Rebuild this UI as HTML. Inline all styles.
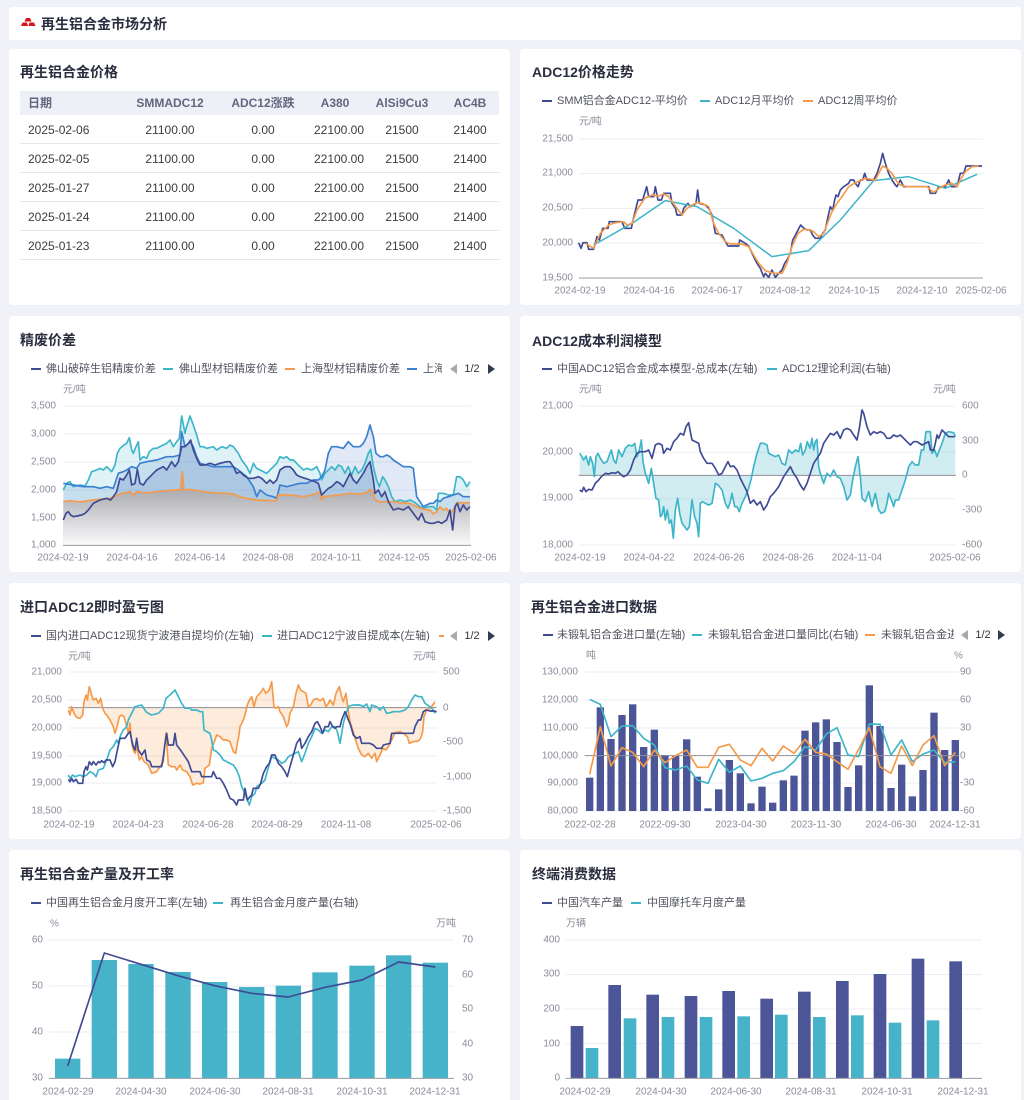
<!DOCTYPE html>
<html><head><meta charset="utf-8"><style>
html,body{margin:0;padding:0;background:#f1f2f7;width:1024px;height:1100px;overflow:hidden}
svg{display:block}
text{font-family:"Liberation Sans","Noto Sans CJK SC",sans-serif;dominant-baseline:central}
.t{font-size:14px;font-weight:bold;fill:#2b2e3f}
.lg{font-size:11px;fill:#50535f}
.ax{font-size:10px;fill:#8a8d9a}
.th{font-size:12px;font-weight:bold;fill:#62667e}
.td{font-size:12px;fill:#3c3c3c}
.m{text-anchor:middle}.e{text-anchor:end}
.grid{stroke:#eceef5;stroke-width:1}
.axl{stroke:#9a9ca5;stroke-width:1}
</style></head><body>
<svg width="1024" height="1100" viewBox="0 0 1024 1100" xmlns="http://www.w3.org/2000/svg">
<defs>
<linearGradient id="gg" gradientUnits="userSpaceOnUse" x1="0" y1="540" x2="0" y2="706"><stop offset="0" stop-color="#acadb2"/><stop offset="1" stop-color="#fafafb"/></linearGradient>
<clipPath id="c5"><rect x="512" y="620" width="442" height="30"/></clipPath>
<clipPath id="c2"><rect x="0" y="355" width="442" height="30"/></clipPath>
</defs>

<!-- header -->
<rect x="9" y="7" width="1012" height="33" rx="3" fill="#fff"/>
<polygon points="26,18 30,18 31.5,21.5 24.5,21.5" fill="#d7141c"/>
<polygon points="22.5,22.5 27,22.5 28,26 21,26" fill="#d7141c"/>
<polygon points="29.5,22.5 34,22.5 35.5,26 28.5,26" fill="#d7141c"/>
<text x="41" y="24" class="t">再生铝合金市场分析</text>

<!-- cards -->
<rect x="9" y="49" width="501" height="256" rx="4" fill="#fff"/>
<rect x="520" y="49" width="501" height="256" rx="4" fill="#fff"/>
<rect x="9" y="316" width="501" height="256" rx="4" fill="#fff"/>
<rect x="520" y="316" width="501" height="256" rx="4" fill="#fff"/>
<rect x="9" y="583" width="501" height="256" rx="4" fill="#fff"/>
<rect x="520" y="583" width="501" height="256" rx="4" fill="#fff"/>
<rect x="9" y="850" width="501" height="260" rx="4" fill="#fff"/>
<rect x="520" y="850" width="501" height="260" rx="4" fill="#fff"/>

<!-- ================= table ================= -->
<text x="20" y="72" class="t">再生铝合金价格</text>
<rect x="20" y="91" width="479" height="24" fill="#eef0f8"/>
<text x="28" y="103" class="th">日期</text>
<text x="170" y="103" class="th m">SMMADC12</text>
<text x="263" y="103" class="th m">ADC12涨跌</text>
<text x="335" y="103" class="th m">A380</text>
<text x="402" y="103" class="th m">AlSi9Cu3</text>
<text x="470" y="103" class="th m">AC4B</text>
<g stroke="#e6e7ee" stroke-width="1">
<line x1="20" x2="499" y1="143.5" y2="143.5"/><line x1="20" x2="499" y1="172.5" y2="172.5"/><line x1="20" x2="499" y1="201.5" y2="201.5"/><line x1="20" x2="499" y1="230.5" y2="230.5"/><line x1="20" x2="499" y1="259.5" y2="259.5"/>
</g>
<g>
<text x="28" y="130" class="td">2025-02-06</text><text x="170" y="130" class="td m">21100.00</text><text x="263" y="130" class="td m">0.00</text><text x="339" y="130" class="td m">22100.00</text><text x="402" y="130" class="td m">21500</text><text x="470" y="130" class="td m">21400</text>
<text x="28" y="159" class="td">2025-02-05</text><text x="170" y="159" class="td m">21100.00</text><text x="263" y="159" class="td m">0.00</text><text x="339" y="159" class="td m">22100.00</text><text x="402" y="159" class="td m">21500</text><text x="470" y="159" class="td m">21400</text>
<text x="28" y="188" class="td">2025-01-27</text><text x="170" y="188" class="td m">21100.00</text><text x="263" y="188" class="td m">0.00</text><text x="339" y="188" class="td m">22100.00</text><text x="402" y="188" class="td m">21500</text><text x="470" y="188" class="td m">21400</text>
<text x="28" y="217" class="td">2025-01-24</text><text x="170" y="217" class="td m">21100.00</text><text x="263" y="217" class="td m">0.00</text><text x="339" y="217" class="td m">22100.00</text><text x="402" y="217" class="td m">21500</text><text x="470" y="217" class="td m">21400</text>
<text x="28" y="246" class="td">2025-01-23</text><text x="170" y="246" class="td m">21100.00</text><text x="263" y="246" class="td m">0.00</text><text x="339" y="246" class="td m">22100.00</text><text x="402" y="246" class="td m">21500</text><text x="470" y="246" class="td m">21400</text>
</g>

<!-- ================= ADC12价格走势 ================= -->
<text x="532" y="72" class="t">ADC12价格走势</text>
<line x1="542" x2="552" y1="101" y2="101" stroke="#3f4a94" stroke-width="2"/><text x="557" y="101" class="lg">SMM铝合金ADC12-平均价</text>
<line x1="700" x2="710" y1="101" y2="101" stroke="#3db5c9" stroke-width="2"/><text x="715" y="101" class="lg">ADC12月平均价</text>
<line x1="803" x2="813" y1="101" y2="101" stroke="#f59a4a" stroke-width="2"/><text x="818" y="101" class="lg">ADC12周平均价</text>
<text x="579" y="122" class="ax">元/吨</text>
<g class="grid"><line x1="579" x2="983" y1="139" y2="139"/><line x1="579" x2="983" y1="173.5" y2="173.5"/><line x1="579" x2="983" y1="208.5" y2="208.5"/><line x1="579" x2="983" y1="243" y2="243"/></g>
<line x1="579" x2="983" y1="278" y2="278" class="axl"/>
<text x="573" y="139" class="ax e">21,500</text><text x="573" y="173" class="ax e">21,000</text><text x="573" y="208" class="ax e">20,500</text><text x="573" y="243" class="ax e">20,000</text><text x="573" y="278" class="ax e">19,500</text>
<text x="580" y="291" class="ax m">2024-02-19</text><text x="649" y="291" class="ax m">2024-04-16</text><text x="717" y="291" class="ax m">2024-06-17</text><text x="785" y="291" class="ax m">2024-08-12</text><text x="854" y="291" class="ax m">2024-10-15</text><text x="922" y="291" class="ax m">2024-12-10</text><text x="981" y="291" class="ax m">2025-02-06</text>
<g transform="translate(512,40) scale(0.333333)" fill="none" stroke-linejoin="round">
<polyline stroke="#3f4a94" stroke-width="5" points="200,608 207,625 213,608 225,608 230,628 245,628 255,590 262,600 272,565 288,565 292,545 330,545 338,565 358,565 362,545 378,480 392,480 398,460 404,440 410,470 425,470 430,440 438,480 448,480 455,460 475,460 480,490 490,505 495,525 510,525 515,505 528,490 535,500 545,495 552,490 557,450 562,490 580,495 590,505 600,525 610,580 630,585 640,605 648,618 680,618 683,600 700,610 710,618 718,635 725,650 735,670 745,685 755,710 760,700 770,712 780,690 790,712 800,700 810,690 818,670 825,660 835,640 842,600 848,590 858,570 866,555 876,565 886,570 895,570 902,585 910,595 925,595 932,580 940,570 948,530 955,500 962,510 968,480 972,465 978,470 985,450 995,440 1010,430 1015,420 1025,420 1030,430 1038,440 1045,420 1052,420 1058,400 1065,420 1085,420 1095,400 1105,370 1112,340 1120,370 1130,400 1140,420 1150,435 1155,440 1165,420 1175,440 1250,440 1255,460 1270,460 1280,440 1300,440 1310,420 1318,440 1335,440 1340,420 1345,400 1355,400 1362,378 1410,378"/>
<polyline stroke="#3db5c9" stroke-width="4.5" points="245,615 360,550 460,482 555,500 665,565 780,650 890,632 985,540 1085,422 1190,410 1300,445 1395,403"/>
<polyline stroke="#f59a4a" stroke-width="5" points="220,610 245,625 265,580 290,555 310,548 335,545 345,555 360,550 375,510 398,475 420,465 440,468 455,462 470,470 480,485 495,505 510,525 525,505 540,495 555,488 570,490 590,500 605,550 620,580 640,605 655,612 690,612 710,620 725,645 740,670 760,692 785,700 810,700 825,670 840,620 858,580 875,568 895,570 905,575 920,590 935,580 950,540 960,515 975,490 990,470 1010,440 1030,428 1060,415 1090,420 1100,400 1112,378 1125,385 1140,400 1155,425 1165,435 1185,440 1245,440 1265,458 1280,445 1300,435 1320,430 1335,440 1345,420 1360,395 1380,380 1400,378"/>
</g>

<!-- ================= 精废价差 ================= -->
<text x="20" y="340" class="t">精废价差</text>
<line x1="31" x2="41" y1="369" y2="369" stroke="#3f4a94" stroke-width="2"/><text x="46" y="369" class="lg">佛山破碎生铝精废价差</text>
<line x1="163" x2="173" y1="369" y2="369" stroke="#3db5c9" stroke-width="2"/><text x="179" y="369" class="lg">佛山型材铝精废价差</text>
<line x1="285" x2="295" y1="369" y2="369" stroke="#f59a4a" stroke-width="2"/><text x="301" y="369" class="lg">上海型材铝精废价差</text>
<line x1="407" x2="417" y1="369" y2="369" stroke="#3a7fd0" stroke-width="2"/><text x="423" y="369" class="lg" clip-path="url(#c2)">上海型材</text>
<polygon points="457,364 450,369 457,374" fill="#a8a8ae"/><text x="472" y="369" class="lg m" style="fill:#333">1/2</text><polygon points="488,364 495,369 488,374" fill="#2e3e4e"/>
<text x="63" y="390" class="ax">元/吨</text>
<g class="grid"><line x1="63" x2="471" y1="406" y2="406"/><line x1="63" x2="471" y1="434" y2="434"/><line x1="63" x2="471" y1="462" y2="462"/><line x1="63" x2="471" y1="490" y2="490"/><line x1="63" x2="471" y1="518" y2="518"/></g>
<text x="56" y="406" class="ax e">3,500</text><text x="56" y="434" class="ax e">3,000</text><text x="56" y="462" class="ax e">2,500</text><text x="56" y="490" class="ax e">2,000</text><text x="56" y="518" class="ax e">1,500</text><text x="56" y="545" class="ax e">1,000</text>
<text x="63" y="558" class="ax m">2024-02-19</text><text x="132" y="558" class="ax m">2024-04-16</text><text x="200" y="558" class="ax m">2024-06-14</text><text x="268" y="558" class="ax m">2024-08-08</text><text x="336" y="558" class="ax m">2024-10-11</text><text x="404" y="558" class="ax m">2024-12-05</text><text x="471" y="558" class="ax m">2025-02-06</text>
<g transform="translate(0,310) scale(0.333333)" stroke-linejoin="round">
<polygon fill="rgba(77,190,210,0.18)" points="190,706 190,540 200,520 210,515 220,530 240,525 255,528 265,510 275,485 290,480 300,475 310,480 320,470 335,485 345,465 352,430 360,415 372,405 380,400 388,383 395,420 400,430 408,410 415,395 420,450 430,440 440,445 448,425 460,415 470,415 480,410 490,405 500,400 510,390 520,410 530,395 538,385 545,318 555,370 560,350 570,318 580,345 590,375 600,410 610,410 620,415 640,410 650,420 665,410 680,415 690,405 700,410 715,430 725,450 740,470 750,490 760,460 770,475 780,480 790,485 800,490 810,480 820,470 830,460 840,440 850,445 860,440 870,450 880,450 890,460 900,470 910,480 920,475 935,480 950,470 960,490 965,510 975,490 985,480 995,470 1005,480 1015,465 1025,470 1035,490 1045,470 1055,495 1065,470 1075,490 1085,480 1095,460 1105,430 1112,418 1120,470 1130,510 1138,530 1148,500 1155,510 1165,530 1175,560 1185,575 1200,570 1215,575 1230,570 1245,578 1260,590 1270,595 1285,590 1300,590 1310,600 1315,550 1330,550 1345,555 1360,555 1370,500 1380,500 1390,510 1400,530 1410,515 1410,706"/>
<polygon fill="rgba(70,120,200,0.16)" points="190,706 190,520 220,525 250,530 280,530 300,535 320,530 340,535 355,490 370,485 380,480 395,470 410,475 420,460 440,455 470,450 500,440 520,440 540,435 545,365 555,410 570,395 580,410 590,440 600,460 620,465 640,470 670,470 700,470 715,480 740,500 760,530 770,560 780,540 800,555 820,560 830,565 840,525 860,530 880,525 900,520 920,520 940,510 955,510 965,500 975,480 985,430 995,410 1010,410 1030,415 1045,395 1060,410 1080,410 1090,400 1100,380 1110,345 1120,380 1128,430 1140,440 1150,440 1160,435 1170,440 1180,450 1195,460 1210,470 1230,470 1240,475 1250,560 1260,575 1270,590 1290,580 1300,580 1310,570 1320,575 1330,565 1345,560 1360,555 1375,550 1390,560 1410,560 1410,706"/>
<polygon fill="rgba(50,90,170,0.17)" points="190,706 190,630 198,610 205,605 212,615 220,620 230,618 245,615 255,610 265,600 280,580 300,570 320,565 332,570 340,560 350,545 360,505 370,510 380,495 388,480 395,525 405,520 412,478 420,520 430,525 440,510 450,500 460,490 470,480 490,470 500,480 515,455 525,470 535,455 545,410 555,410 565,400 572,390 580,420 590,445 600,465 615,465 630,460 645,465 660,460 680,455 690,455 700,470 710,490 720,485 730,495 745,505 760,505 775,500 785,505 800,520 810,510 820,520 830,510 840,480 855,470 870,470 880,480 890,495 900,500 915,505 930,510 945,515 955,520 965,555 975,545 985,535 995,530 1010,515 1020,520 1030,530 1040,510 1050,490 1060,510 1070,520 1080,505 1090,490 1100,470 1110,455 1120,510 1125,550 1135,540 1145,560 1155,545 1165,575 1180,600 1195,595 1210,600 1225,590 1240,610 1255,630 1265,610 1275,635 1290,640 1300,640 1315,635 1325,640 1340,630 1350,600 1358,660 1365,590 1372,580 1380,605 1390,585 1400,600 1410,590 1410,706"/>
<polygon fill="url(#gg)" points="190,706 190,575 210,572 230,575 250,575 260,572 280,570 300,568 330,565 345,560 365,550 380,548 390,545 400,555 410,545 430,548 450,548 470,545 500,542 530,540 542,540 547,485 552,540 570,538 590,542 610,545 640,548 680,550 700,552 720,560 740,565 770,570 800,572 830,572 835,555 860,555 880,556 910,560 930,556 950,550 960,545 965,570 970,560 990,558 1020,555 1050,550 1080,552 1100,548 1110,538 1118,545 1125,570 1140,576 1160,575 1180,575 1200,578 1230,580 1250,590 1270,598 1290,600 1300,612 1310,605 1320,590 1330,600 1340,595 1350,613 1360,600 1370,578 1390,578 1410,578 1410,706"/>
<line x1="189" x2="1413" y1="706" y2="706" stroke="#9a9ca5" stroke-width="3"/>
<g fill="none" stroke-width="5">
<polyline stroke="#3db5c9" points="190,540 200,520 210,515 220,530 240,525 255,528 265,510 275,485 290,480 300,475 310,480 320,470 335,485 345,465 352,430 360,415 372,405 380,400 388,383 395,420 400,430 408,410 415,395 420,450 430,440 440,445 448,425 460,415 470,415 480,410 490,405 500,400 510,390 520,410 530,395 538,385 545,318 555,370 560,350 570,318 580,345 590,375 600,410 610,410 620,415 640,410 650,420 665,410 680,415 690,405 700,410 715,430 725,450 740,470 750,490 760,460 770,475 780,480 790,485 800,490 810,480 820,470 830,460 840,440 850,445 860,440 870,450 880,450 890,460 900,470 910,480 920,475 935,480 950,470 960,490 965,510 975,490 985,480 995,470 1005,480 1015,465 1025,470 1035,490 1045,470 1055,495 1065,470 1075,490 1085,480 1095,460 1105,430 1112,418 1120,470 1130,510 1138,530 1148,500 1155,510 1165,530 1175,560 1185,575 1200,570 1215,575 1230,570 1245,578 1260,590 1270,595 1285,590 1300,590 1310,600 1315,550 1330,550 1345,555 1360,555 1370,500 1380,500 1390,510 1400,530 1410,515"/>
<polyline stroke="#3a7fd0" points="190,520 220,525 250,530 280,530 300,535 320,530 340,535 355,490 370,485 380,480 395,470 410,475 420,460 440,455 470,450 500,440 520,440 540,435 545,365 555,410 570,395 580,410 590,440 600,460 620,465 640,470 670,470 700,470 715,480 740,500 760,530 770,560 780,540 800,555 820,560 830,565 840,525 860,530 880,525 900,520 920,520 940,510 955,510 965,500 975,480 985,430 995,410 1010,410 1030,415 1045,395 1060,410 1080,410 1090,400 1100,380 1110,345 1120,380 1128,430 1140,440 1150,440 1160,435 1170,440 1180,450 1195,460 1210,470 1230,470 1240,475 1250,560 1260,575 1270,590 1290,580 1300,580 1310,570 1320,575 1330,565 1345,560 1360,555 1375,550 1390,560 1410,560"/>
<polyline stroke="#f59a4a" points="190,575 210,572 230,575 250,575 260,572 280,570 300,568 330,565 345,560 365,550 380,548 390,545 400,555 410,545 430,548 450,548 470,545 500,542 530,540 542,540 547,485 552,540 570,538 590,542 610,545 640,548 680,550 700,552 720,560 740,565 770,570 800,572 830,572 835,555 860,555 880,556 910,560 930,556 950,550 960,545 965,570 970,560 990,558 1020,555 1050,550 1080,552 1100,548 1110,538 1118,545 1125,570 1140,576 1160,575 1180,575 1200,578 1230,580 1250,590 1270,598 1290,600 1300,612 1310,605 1320,590 1330,600 1340,595 1350,613 1360,600 1370,578 1390,578 1410,578"/>
<polyline stroke="#3f4a94" points="190,630 198,610 205,605 212,615 220,620 230,618 245,615 255,610 265,600 280,580 300,570 320,565 332,570 340,560 350,545 360,505 370,510 380,495 388,480 395,525 405,520 412,478 420,520 430,525 440,510 450,500 460,490 470,480 490,470 500,480 515,455 525,470 535,455 545,410 555,410 565,400 572,390 580,420 590,445 600,465 615,465 630,460 645,465 660,460 680,455 690,455 700,470 710,490 720,485 730,495 745,505 760,505 775,500 785,505 800,520 810,510 820,520 830,510 840,480 855,470 870,470 880,480 890,495 900,500 915,505 930,510 945,515 955,520 965,555 975,545 985,535 995,530 1010,515 1020,520 1030,530 1040,510 1050,490 1060,510 1070,520 1080,505 1090,490 1100,470 1110,455 1120,510 1125,550 1135,540 1145,560 1155,545 1165,575 1180,600 1195,595 1210,600 1225,590 1240,610 1255,630 1265,610 1275,635 1290,640 1300,640 1315,635 1325,640 1340,630 1350,600 1358,660 1365,590 1372,580 1380,605 1390,585 1400,600 1410,590"/>
</g>
</g>

<!-- ================= ADC12成本利润模型 ================= -->
<text x="532" y="341" class="t">ADC12成本利润模型</text>
<line x1="542" x2="552" y1="369" y2="369" stroke="#3f4a94" stroke-width="2"/><text x="557" y="369" class="lg">中国ADC12铝合金成本模型-总成本(左轴)</text>
<line x1="767" x2="777" y1="369" y2="369" stroke="#3db5c9" stroke-width="2"/><text x="782" y="369" class="lg">ADC12理论利润(右轴)</text>
<text x="579" y="390" class="ax">元/吨</text><text x="933" y="390" class="ax">元/吨</text>
<g class="grid"><line x1="579" x2="955" y1="406" y2="406"/><line x1="579" x2="955" y1="452.3" y2="452.3"/><line x1="579" x2="955" y1="498.7" y2="498.7"/><line x1="579" x2="955" y1="545" y2="545"/></g>
<text x="573" y="406" class="ax e">21,000</text><text x="573" y="452" class="ax e">20,000</text><text x="573" y="498" class="ax e">19,000</text><text x="573" y="545" class="ax e">18,000</text>
<text x="962" y="406" class="ax">600</text><text x="962" y="441" class="ax">300</text><text x="962" y="475" class="ax">0</text><text x="962" y="510" class="ax">-300</text><text x="962" y="545" class="ax">-600</text>
<text x="580" y="558" class="ax m">2024-02-19</text><text x="649" y="558" class="ax m">2024-04-22</text><text x="719" y="558" class="ax m">2024-06-26</text><text x="788" y="558" class="ax m">2024-08-26</text><text x="857" y="558" class="ax m">2024-11-04</text><text x="955" y="558" class="ax m">2025-02-06</text>
<g transform="translate(512,310) scale(0.333333)" stroke-linejoin="round">
<polygon fill="rgba(70,182,204,0.25)" points="203,496 203,430 210,440 215,450 222,438 230,465 235,440 242,460 247,500 252,440 258,430 265,445 275,460 285,455 292,435 298,420 305,450 312,460 320,420 330,440 340,415 350,405 360,408 368,400 375,440 382,420 388,390 393,455 400,490 410,520 418,475 425,520 432,565 440,570 445,620 450,615 455,590 460,630 466,600 472,640 478,630 484,685 490,600 497,565 503,610 510,640 518,650 525,660 532,650 540,570 548,620 555,640 560,680 565,580 572,575 580,580 590,585 600,580 610,520 618,525 630,540 635,560 640,580 648,595 655,575 660,550 668,590 675,590 682,605 690,580 700,560 710,535 718,505 725,470 735,430 745,400 755,400 765,405 770,430 780,435 790,440 800,435 810,460 820,465 830,420 840,430 850,420 860,425 866,400 872,435 880,420 886,395 894,415 900,385 905,420 910,395 915,388 920,470 925,490 935,520 945,490 955,500 965,480 975,500 985,505 995,530 1005,570 1015,555 1022,510 1030,470 1038,440 1045,500 1050,565 1060,575 1070,545 1080,590 1090,550 1100,600 1108,610 1118,605 1125,580 1130,550 1140,575 1145,590 1150,570 1160,570 1170,540 1180,510 1190,470 1200,455 1210,465 1220,465 1228,420 1235,420 1242,365 1255,365 1260,430 1268,420 1275,440 1280,425 1290,400 1300,370 1310,365 1325,368 1330,380 1330,496"/>
<line x1="200" x2="1332" y1="496" y2="496" stroke="#8d8f98" stroke-width="3"/>
<g fill="none" stroke-width="5">
<polyline stroke="#3db5c9" points="203,430 210,440 215,450 222,438 230,465 235,440 242,460 247,500 252,440 258,430 265,445 275,460 285,455 292,435 298,420 305,450 312,460 320,420 330,440 340,415 350,405 360,408 368,400 375,440 382,420 388,390 393,455 400,490 410,520 418,475 425,520 432,565 440,570 445,620 450,615 455,590 460,630 466,600 472,640 478,630 484,685 490,600 497,565 503,610 510,640 518,650 525,660 532,650 540,570 548,620 555,640 560,680 565,580 572,575 580,580 590,585 600,580 610,520 618,525 630,540 635,560 640,580 648,595 655,575 660,550 668,590 675,590 682,605 690,580 700,560 710,535 718,505 725,470 735,430 745,400 755,400 765,405 770,430 780,435 790,440 800,435 810,460 820,465 830,420 840,430 850,420 860,425 866,400 872,435 880,420 886,395 894,415 900,385 905,420 910,395 915,388 920,470 925,490 935,520 945,490 955,500 965,480 975,500 985,505 995,530 1005,570 1015,555 1022,510 1030,470 1038,440 1045,500 1050,565 1060,575 1070,545 1080,590 1090,550 1100,600 1108,610 1118,605 1125,580 1130,550 1140,575 1145,590 1150,570 1160,570 1170,540 1180,510 1190,470 1200,455 1210,465 1220,465 1228,420 1235,420 1242,365 1255,365 1260,430 1268,420 1275,440 1280,425 1290,400 1300,370 1310,365 1325,368 1330,380"/>
<polyline stroke="#3f4a94" points="203,540 210,545 215,532 222,545 230,538 240,540 250,520 260,510 268,500 280,490 290,492 300,488 310,490 318,485 325,492 335,500 345,495 355,480 365,450 375,430 385,425 400,425 410,420 420,445 430,405 440,400 450,405 455,430 465,415 475,420 485,395 495,385 505,370 515,375 522,350 530,338 535,365 540,390 550,395 560,400 565,425 575,445 585,460 600,460 610,475 620,495 630,490 640,470 648,455 655,470 665,468 675,480 685,505 695,525 705,545 715,580 725,570 735,585 745,575 755,600 765,585 775,560 785,550 800,530 815,500 825,485 835,470 845,490 855,505 865,525 875,540 885,520 895,490 905,460 915,445 925,430 935,400 945,385 955,370 965,375 975,365 985,385 995,360 1005,355 1015,360 1025,375 1035,390 1042,355 1050,300 1055,310 1065,350 1075,375 1085,365 1095,370 1105,365 1115,370 1125,385 1135,385 1145,375 1155,380 1165,375 1175,385 1185,395 1195,405 1205,395 1215,395 1230,405 1240,400 1250,395 1255,420 1265,420 1270,400 1275,375 1280,385 1290,360 1300,370 1310,380 1320,380 1328,380"/>
</g>
</g>

<!-- ================= 进口ADC12即时盈亏图 ================= -->
<text x="20" y="607" class="t">进口ADC12即时盈亏图</text>
<line x1="31" x2="41" y1="636" y2="636" stroke="#3f4a94" stroke-width="2"/><text x="46" y="636" class="lg">国内进口ADC12现货宁波港自提均价(左轴)</text>
<line x1="262" x2="272" y1="636" y2="636" stroke="#3db5c9" stroke-width="2"/><text x="277" y="636" class="lg">进口ADC12宁波自提成本(左轴)</text>
<line x1="439" x2="444" y1="636" y2="636" stroke="#f59a4a" stroke-width="2"/>
<polygon points="457,631 450,636 457,641" fill="#a8a8ae"/><text x="472" y="636" class="lg m" style="fill:#333">1/2</text><polygon points="488,631 495,636 488,641" fill="#2e3e4e"/>
<text x="68" y="657" class="ax">元/吨</text><text x="413" y="657" class="ax">元/吨</text>
<g class="grid"><line x1="68" x2="437" y1="672" y2="672"/><line x1="68" x2="437" y1="700" y2="700"/><line x1="68" x2="437" y1="728" y2="728"/><line x1="68" x2="437" y1="756" y2="756"/><line x1="68" x2="437" y1="783" y2="783"/><line x1="68" x2="437" y1="811" y2="811"/></g>
<text x="62" y="672" class="ax e">21,000</text><text x="62" y="700" class="ax e">20,500</text><text x="62" y="728" class="ax e">20,000</text><text x="62" y="756" class="ax e">19,500</text><text x="62" y="783" class="ax e">19,000</text><text x="62" y="811" class="ax e">18,500</text>
<text x="443" y="672" class="ax">500</text><text x="443" y="708" class="ax">0</text><text x="443" y="742" class="ax">-500</text><text x="443" y="777" class="ax">-1,000</text><text x="443" y="811" class="ax">-1,500</text>
<text x="69" y="825" class="ax m">2024-02-19</text><text x="138" y="825" class="ax m">2024-04-23</text><text x="208" y="825" class="ax m">2024-06-28</text><text x="277" y="825" class="ax m">2024-08-29</text><text x="346" y="825" class="ax m">2024-11-08</text><text x="436" y="825" class="ax m">2025-02-06</text>
<g transform="translate(0,580) scale(0.333333)" stroke-linejoin="round">
<polygon fill="rgba(245,155,80,0.2)" points="205,383 205,390 210,405 215,380 222,400 230,412 240,415 248,405 252,365 258,345 262,360 268,320 275,345 280,360 288,355 295,370 302,355 308,385 315,400 320,405 330,420 340,440 345,460 350,445 358,410 365,405 372,410 380,440 385,460 390,430 395,490 400,510 405,520 410,500 418,540 425,530 432,545 440,550 445,555 455,580 470,575 480,560 490,545 498,460 505,555 515,560 525,560 530,570 540,555 548,570 560,575 570,590 578,615 590,610 600,612 610,608 615,565 628,555 635,505 645,480 650,465 660,470 670,480 680,480 690,485 695,500 700,515 707,520 712,490 717,465 720,440 728,425 735,405 742,375 748,360 755,350 762,380 770,350 780,340 790,325 798,340 808,330 815,305 822,380 828,385 835,380 840,395 850,410 860,440 865,430 870,400 880,380 888,340 895,315 902,330 910,335 918,340 925,380 932,375 940,360 950,355 960,362 970,355 978,380 985,370 990,360 1000,375 1008,340 1018,320 1025,350 1030,365 1038,340 1045,395 1050,425 1058,450 1065,475 1075,505 1085,525 1095,530 1105,520 1115,535 1125,520 1130,545 1140,525 1148,505 1158,510 1165,500 1175,480 1185,458 1200,455 1210,460 1222,470 1228,490 1240,485 1255,483 1262,475 1268,455 1272,410 1280,390 1290,385 1298,375 1305,365 1305,383"/>
<line x1="205" x2="1310" y1="383" y2="383" stroke="#8d8f98" stroke-width="3"/>
<g fill="none" stroke-width="5">
<polyline stroke="#f59a4a" points="205,390 210,405 215,380 222,400 230,412 240,415 248,405 252,365 258,345 262,360 268,320 275,345 280,360 288,355 295,370 302,355 308,385 315,400 320,405 330,420 340,440 345,460 350,445 358,410 365,405 372,410 380,440 385,460 390,430 395,490 400,510 405,520 410,500 418,540 425,530 432,545 440,550 445,555 455,580 470,575 480,560 490,545 498,460 505,555 515,560 525,560 530,570 540,555 548,570 560,575 570,590 578,615 590,610 600,612 610,608 615,565 628,555 635,505 645,480 650,465 660,470 670,480 680,480 690,485 695,500 700,515 707,520 712,490 717,465 720,440 728,425 735,405 742,375 748,360 755,350 762,380 770,350 780,340 790,325 798,340 808,330 815,305 822,380 828,385 835,380 840,395 850,410 860,440 865,430 870,400 880,380 888,340 895,315 902,330 910,335 918,340 925,380 932,375 940,360 950,355 960,362 970,355 978,380 985,370 990,360 1000,375 1008,340 1018,320 1025,350 1030,365 1038,340 1045,395 1050,425 1058,450 1065,475 1075,505 1085,525 1095,530 1105,520 1115,535 1125,520 1130,545 1140,525 1148,505 1158,510 1165,500 1175,480 1185,458 1200,455 1210,460 1222,470 1228,490 1240,485 1255,483 1262,475 1268,455 1272,410 1280,390 1290,385 1298,375 1305,365"/>
<polyline stroke="#3db5c9" points="205,585 210,595 218,585 225,590 240,585 250,590 260,585 270,575 280,580 288,590 295,570 310,565 320,540 330,510 340,500 350,480 355,490 362,465 370,450 380,440 385,420 395,400 405,380 425,375 438,395 445,400 455,405 475,400 490,385 498,355 510,345 525,330 535,350 545,370 555,385 570,385 575,390 590,390 600,395 608,395 612,450 620,455 630,460 635,480 640,510 650,515 660,525 670,540 680,545 690,550 700,555 710,570 718,590 725,620 730,630 740,655 748,675 755,650 765,640 770,620 785,610 795,600 800,580 815,530 825,535 835,540 845,550 855,545 865,530 875,525 885,520 895,515 905,545 915,520 925,490 935,470 945,445 955,450 965,460 975,450 985,455 995,440 1005,440 1012,455 1020,490 1030,430 1040,395 1048,378 1060,375 1080,375 1090,380 1100,372 1110,395 1115,375 1130,380 1140,390 1150,380 1160,400 1170,398 1180,395 1200,395 1215,390 1225,380 1235,360 1245,345 1255,350 1265,350 1275,370 1290,380 1300,390 1305,400"/>
<polyline stroke="#3f4a94" points="205,598 210,605 215,595 220,605 228,598 235,610 248,610 252,575 258,560 262,570 268,545 275,555 280,545 288,555 295,545 300,548 305,542 312,548 318,540 330,540 338,560 345,545 352,510 360,475 375,475 385,460 390,455 395,480 400,500 405,510 410,475 415,510 425,525 435,510 440,540 450,545 455,560 485,560 490,530 495,490 500,460 505,495 520,495 525,460 530,495 545,515 555,530 565,545 575,575 600,575 605,590 635,590 640,575 650,595 660,595 670,610 680,630 690,655 700,660 710,675 715,660 730,660 735,625 742,660 750,650 755,645 760,625 775,625 782,610 790,580 800,560 808,550 815,525 825,525 835,550 845,560 855,575 862,590 870,560 880,525 890,490 900,475 905,505 915,490 925,470 935,455 945,430 952,425 960,440 968,460 975,440 985,440 990,425 998,440 1005,445 1010,440 1020,440 1025,420 1035,395 1040,405 1045,420 1050,430 1060,465 1070,475 1080,470 1085,490 1110,490 1120,495 1130,505 1145,505 1150,495 1170,490 1175,460 1200,460 1240,460 1245,440 1255,420 1262,420 1270,395 1278,390 1290,393 1300,393 1310,395"/>
</g>
</g>

<!-- ================= 再生铝合金进口数据 ================= -->
<text x="531" y="607" class="t">再生铝合金进口数据</text>
<line x1="543" x2="553" y1="635" y2="635" stroke="#3f4a94" stroke-width="2"/><text x="557" y="635" class="lg">未锻轧铝合金进口量(左轴)</text>
<line x1="692" x2="702" y1="635" y2="635" stroke="#3db5c9" stroke-width="2"/><text x="708" y="635" class="lg">未锻轧铝合金进口量同比(右轴)</text>
<line x1="865" x2="875" y1="635" y2="635" stroke="#f59a4a" stroke-width="2"/><text x="881" y="635" class="lg" clip-path="url(#c5)">未锻轧铝合金进口</text>
<polygon points="968,630 961,635 968,640" fill="#a8a8ae"/><text x="983" y="635" class="lg m" style="fill:#333">1/2</text><polygon points="998,630 1005,635 998,640" fill="#2e3e4e"/>
<text x="586" y="656" class="ax">吨</text><text x="954" y="656" class="ax">%</text>
<g class="grid"><line x1="585" x2="959" y1="672" y2="672"/><line x1="585" x2="959" y1="700" y2="700"/><line x1="585" x2="959" y1="728" y2="728"/><line x1="585" x2="959" y1="783" y2="783"/><line x1="585" x2="959" y1="811" y2="811"/></g>
<text x="578" y="672" class="ax e">130,000</text><text x="578" y="700" class="ax e">120,000</text><text x="578" y="728" class="ax e">110,000</text><text x="578" y="756" class="ax e">100,000</text><text x="578" y="783" class="ax e">90,000</text><text x="578" y="811" class="ax e">80,000</text>
<text x="960" y="672" class="ax">90</text><text x="960" y="700" class="ax">60</text><text x="960" y="728" class="ax">30</text><text x="960" y="756" class="ax">0</text><text x="960" y="783" class="ax">-30</text><text x="960" y="811" class="ax">-60</text>
<text x="590" y="825" class="ax m">2022-02-28</text><text x="665" y="825" class="ax m">2022-09-30</text><text x="741" y="825" class="ax m">2023-04-30</text><text x="816" y="825" class="ax m">2023-11-30</text><text x="891" y="825" class="ax m">2024-06-30</text><text x="955" y="825" class="ax m">2024-12-31</text>
<g transform="translate(512,580) scale(0.333333)" stroke-linejoin="round">
<g fill="#4b5597">
<rect x="222" y="593" width="22" height="100"/><rect x="254" y="382" width="22" height="311"/><rect x="286" y="477" width="22" height="216"/><rect x="319" y="405" width="22" height="288"/><rect x="351" y="373" width="22" height="320"/><rect x="384" y="501" width="22" height="192"/><rect x="416" y="449" width="22" height="244"/><rect x="448" y="525" width="22" height="168"/><rect x="480" y="527" width="22" height="166"/><rect x="513" y="478" width="22" height="215"/><rect x="545" y="590" width="22" height="103"/><rect x="577" y="685" width="22" height="8"/><rect x="609" y="628" width="22" height="65"/><rect x="641" y="540" width="22" height="153"/><rect x="674" y="580" width="22" height="113"/><rect x="706" y="670" width="22" height="23"/><rect x="739" y="620" width="22" height="73"/><rect x="771" y="668" width="22" height="25"/><rect x="803" y="601" width="22" height="92"/><rect x="835" y="587" width="22" height="106"/><rect x="868" y="452" width="22" height="241"/><rect x="900" y="427" width="22" height="266"/><rect x="932" y="418" width="22" height="275"/><rect x="964" y="486" width="22" height="207"/><rect x="997" y="621" width="22" height="72"/><rect x="1029" y="556" width="22" height="137"/><rect x="1061" y="316" width="22" height="377"/><rect x="1093" y="438" width="22" height="255"/><rect x="1126" y="624" width="22" height="69"/><rect x="1158" y="554" width="22" height="139"/><rect x="1190" y="649" width="22" height="44"/><rect x="1222" y="570" width="22" height="123"/><rect x="1255" y="398" width="22" height="295"/><rect x="1287" y="510" width="22" height="183"/><rect x="1319" y="480" width="22" height="213"/>
</g>
<line x1="218" x2="1342" y1="527" y2="527" stroke="#8d8f98" stroke-width="3"/>
<g fill="none" stroke-width="5">
<polyline stroke="#3db5c9" points="233,358 265,373 297,470 330,438 362,437 395,475 427,495 459,563 491,570 524,558 556,600 588,610 620,538 652,577 685,558 717,603 750,595 782,580 814,572 846,545 879,500 911,510 943,462 975,443 1008,525 1040,530 1072,432 1104,433 1137,525 1169,480 1201,545 1233,522 1266,510 1298,548 1330,545"/>
<polyline stroke="#f59a4a" points="233,583 265,440 297,558 330,503 362,517 395,560 427,510 459,548 491,527 524,510 556,562 588,562 620,502 652,493 685,540 717,557 750,505 782,543 814,498 846,520 879,478 911,517 943,522 975,545 1008,568 1040,508 1072,443 1104,560 1137,580 1169,498 1201,557 1233,495 1266,467 1298,557 1330,517"/>
</g>
</g>

<!-- ================= 再生铝合金产量及开工率 ================= -->
<text x="20" y="874" class="t">再生铝合金产量及开工率</text>
<line x1="31" x2="41" y1="903" y2="903" stroke="#3f4a94" stroke-width="2"/><text x="46" y="903" class="lg">中国再生铝合金月度开工率(左轴)</text>
<line x1="213" x2="223" y1="903" y2="903" stroke="#3db5c9" stroke-width="2"/><text x="230" y="903" class="lg">再生铝合金月度产量(右轴)</text>
<text x="50" y="924" class="ax">%</text><text x="436" y="924" class="ax">万吨</text>
<g class="grid"><line x1="49" x2="454" y1="940" y2="940"/><line x1="49" x2="454" y1="986" y2="986"/><line x1="49" x2="454" y1="1032" y2="1032"/></g>
<text x="43" y="940" class="ax e">60</text><text x="43" y="986" class="ax e">50</text><text x="43" y="1032" class="ax e">40</text><text x="43" y="1078" class="ax e">30</text>
<text x="462" y="940" class="ax">70</text><text x="462" y="975" class="ax">60</text><text x="462" y="1009" class="ax">50</text><text x="462" y="1044" class="ax">40</text><text x="462" y="1078" class="ax">30</text>
<text x="68" y="1092" class="ax m">2024-02-29</text><text x="141" y="1092" class="ax m">2024-04-30</text><text x="215" y="1092" class="ax m">2024-06-30</text><text x="288" y="1092" class="ax m">2024-08-31</text><text x="362" y="1092" class="ax m">2024-10-31</text><text x="435" y="1092" class="ax m">2024-12-31</text>
<g transform="translate(0,845) scale(0.333333)" stroke-linejoin="round">
<g fill="#46b3c9">
<rect x="165" y="641" width="76" height="59"/><rect x="275" y="345" width="76" height="355"/><rect x="385" y="357" width="76" height="343"/><rect x="496" y="381" width="76" height="319"/><rect x="606" y="411" width="76" height="289"/><rect x="717" y="426" width="76" height="274"/><rect x="827" y="422" width="76" height="278"/><rect x="937" y="382" width="76" height="318"/><rect x="1048" y="362" width="76" height="338"/><rect x="1158" y="331" width="76" height="369"/><rect x="1268" y="353" width="76" height="347"/>
</g>
<line x1="147" x2="1362" y1="700" y2="700" stroke="#9a9ca5" stroke-width="3"/>
<polyline fill="none" stroke="#3f4a94" stroke-width="5" points="203,663 313,324 423,358 534,392 644,422 755,445 865,456 975,427 1086,405 1196,351 1306,366"/>
</g>

<!-- ================= 终端消费数据 ================= -->
<text x="532" y="874" class="t">终端消费数据</text>
<line x1="542" x2="552" y1="903" y2="903" stroke="#3f4a94" stroke-width="2"/><text x="557" y="903" class="lg">中国汽车产量</text>
<line x1="631" x2="641" y1="903" y2="903" stroke="#3db5c9" stroke-width="2"/><text x="647" y="903" class="lg">中国摩托车月度产量</text>
<text x="566" y="924" class="ax">万辆</text>
<g class="grid"><line x1="565" x2="982" y1="940" y2="940"/><line x1="565" x2="982" y1="974.5" y2="974.5"/><line x1="565" x2="982" y1="1009" y2="1009"/><line x1="565" x2="982" y1="1043.5" y2="1043.5"/></g>
<text x="560" y="940" class="ax e">400</text><text x="560" y="974" class="ax e">300</text><text x="560" y="1009" class="ax e">200</text><text x="560" y="1044" class="ax e">100</text><text x="560" y="1078" class="ax e">0</text>
<text x="585" y="1092" class="ax m">2024-02-29</text><text x="661" y="1092" class="ax m">2024-04-30</text><text x="736" y="1092" class="ax m">2024-06-30</text><text x="811" y="1092" class="ax m">2024-08-31</text><text x="887" y="1092" class="ax m">2024-10-31</text><text x="963" y="1092" class="ax m">2024-12-31</text>
<g transform="translate(512,845) scale(0.333333)">
<g fill="#4b5597">
<rect x="176" y="543" width="38" height="157"/><rect x="289" y="420" width="38" height="280"/><rect x="403" y="449" width="38" height="251"/><rect x="518" y="453" width="38" height="247"/><rect x="631" y="438" width="38" height="262"/><rect x="745" y="461" width="38" height="239"/><rect x="858" y="440" width="38" height="260"/><rect x="972" y="408" width="38" height="292"/><rect x="1085" y="387" width="38" height="313"/><rect x="1199" y="341" width="38" height="359"/><rect x="1312" y="349" width="38" height="351"/>
</g>
<g fill="#46b3c9">
<rect x="221" y="609" width="38" height="91"/><rect x="335" y="520" width="38" height="180"/><rect x="449" y="516" width="38" height="184"/><rect x="563" y="516" width="38" height="184"/><rect x="676" y="514" width="38" height="186"/><rect x="789" y="509" width="38" height="191"/><rect x="903" y="516" width="38" height="184"/><rect x="1017" y="511" width="38" height="189"/><rect x="1130" y="533" width="38" height="167"/><rect x="1244" y="526" width="38" height="174"/>
</g>
<line x1="160" x2="1410" y1="700" y2="700" stroke="#9a9ca5" stroke-width="3"/>
</g>
</svg>
</body></html>
